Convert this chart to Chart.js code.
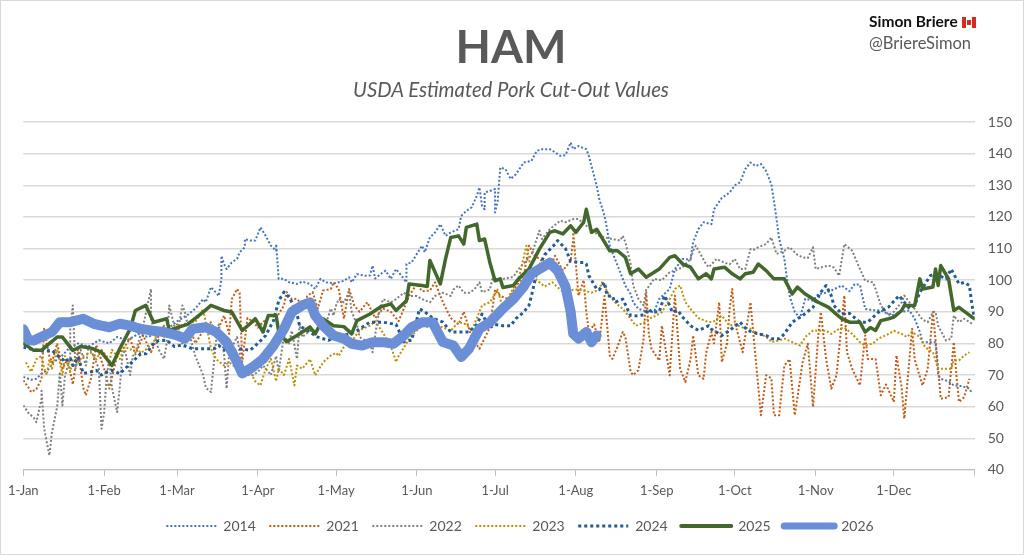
<!DOCTYPE html>
<html><head><meta charset="utf-8">
<script src="https://cdn.jsdelivr.net/npm/chart.js@4.4.1/dist/chart.umd.min.js"></script>
<style>
html,body{margin:0;padding:0;background:#fff;}
#wrap{position:relative;width:1024px;height:555px;box-sizing:border-box;border:1px solid #D9D9D9;overflow:hidden;font-family:Lato,"Open Sans",sans-serif;}
#cv{position:absolute;left:0;top:0;}
#title{position:absolute;left:0;width:1020px;top:22px;text-align:center;font-weight:bold;font-size:46px;line-height:1;color:#595959;}
#sub{position:absolute;left:0;width:1020px;top:78px;text-align:center;font-style:italic;font-size:20.3px;line-height:1;color:#595959;}
#author{position:absolute;left:868px;top:13px;font-weight:bold;font-size:15.5px;line-height:1;color:#111;white-space:nowrap;}
#handle{position:absolute;left:868px;top:34px;font-size:16.5px;line-height:1;color:#595959;white-space:nowrap;}
.flag{display:inline-block;position:relative;width:14px;height:11px;margin-left:4px;vertical-align:-1px;background:linear-gradient(to right,#D52B1E 0 27%,#fff 27% 73%,#D52B1E 73%);}
.flag:after{content:"";position:absolute;left:5px;top:3px;width:4px;height:5px;background:#D52B1E;}
</style></head>
<body>
<div id="wrap">
<canvas id="cv" width="1024" height="555"></canvas>
<div id="title">HAM</div>
<div id="sub">USDA Estimated Pork Cut-Out Values</div>
<div id="author">Simon Briere<span class="flag"></span></div>
<div id="handle">@BriereSimon</div>
</div>
<script>
// x = day of year (0 = 1-Jan), y = $/cwt
const monthDays = [0,31,59,90,120,151,181,212,243,273,304,334];
const monthLabels = ['1-Jan','1-Feb','1-Mar','1-Apr','1-May','1-Jun','1-Jul','1-Aug','1-Sep','1-Oct','1-Nov','1-Dec'];
const seriesNames = ['2014','2021','2022','2023','2024','2025','2026'];

const ham2014 = [[0,69.4],[3,68.5],[5,68.8],[7,70.4],[10,72],[11,73.6],[15,76.2],[17,78],[21,80],[25,79],[29,81],[33,80],[36,82],[40,81],[44,83],[48,82],[52,84],[56,85],[59,87],[63,89],[66,91],[69,94],[70,93],[72,97.8],[74,96],[75,95],[76,100.4],[76,107.7],[77,105.1],[78,103.5],[79,104.6],[80,105.6],[82,106.7],[83,108.8],[85,110.4],[85,113],[87,112.5],[89,112.5],[91,116.7],[93,114],[95,110.9],[97,109.3],[97,111.4],[98,100.4],[100,100.4],[102,99.3],[105,98.8],[107,99.5],[110,98.8],[112,97.2],[114,100.4],[116,99.3],[119,99],[121,99.3],[123,99.8],[125,100.9],[126,99.3],[128,101.9],[131,101.4],[133,101.5],[134,104.6],[135,100.5],[137,101.9],[139,103],[141,100.4],[143,103.5],[144,102.5],[146,100.4],[147,99.3],[147,105.1],[149,105.6],[151,108.3],[153,110.9],[154,108.8],[156,113.5],[158,115.1],[160,117.7],[162,114],[164,115.1],[167,116.1],[168,120.3],[170,121.9],[172,123],[174,126.7],[175,129.3],[176,123.5],[177,122.4],[177,127.7],[179,128.2],[181,128.8],[181,121.4],[182,125],[183,135.6],[185,135.1],[187,132],[189,133.5],[192,137.2],[195,137.7],[197,140.9],[199,141.4],[202,141.4],[204,140.4],[206,139.3],[208,139.5],[210,143.5],[211,141.4],[213,142.4],[216,141.4],[217,139.3],[218,136.1],[220,129.8],[221,125.6],[223,120.3],[224,116.1],[225,110.9],[227,106.7],[229,102.5],[231,98.3],[233,95.6],[234,93],[236,90.9],[240,89.9],[242,90],[244,94.1],[248,97.2],[250,103.5],[253,106.7],[256,106.5],[257,112],[259,116.1],[261,118.3],[264,117.7],[265,122.4],[268,126],[271,127.7],[273,130],[275,130.9],[277,135.1],[279,137.2],[281,136.1],[283,136.7],[285,134.5],[287,130.3],[288,125.1],[289,119.3],[290,113],[292,106.7],[293,100.4],[294,95.1],[296,89.9],[298,88],[300,94.1],[303,93.5],[305,95.6],[308,96],[310,96.7],[314,98.3],[317,96.5],[319,98.8],[321,98.5],[323,90.9],[326,90.5],[329,90.4],[333,88.8],[337,90],[340,90.4],[342,87.8],[344,83.6],[345,80.4],[347,80.4],[350,80.4],[351,69.9],[352,68.8],[355,68],[357,66.7],[360,66.5],[363,65.7],[364,64.1]];

const ham2021 = [[0,68.3],[2,66],[3,64.6],[5,65.5],[7,68.8],[8,84.6],[10,76],[11,74],[13,80],[15,72],[17,75],[19,67],[21,78],[23,66],[24,63.6],[26,69],[28,79.5],[31,72],[33,65.7],[36,76.2],[38,78],[41,81.5],[43,76.5],[46,82.5],[49,77.2],[51,81],[54,85.6],[56,82],[59,86],[61,80],[64,85],[66,80],[69,84],[72,86.7],[74,83],[77,88.8],[79,83],[80,94],[82,97.2],[83,96],[84,74.1],[86,88],[88,87],[90,85],[92,86.7],[95,89],[97,88],[100,92],[101,96.2],[103,94],[105,94.1],[107,92],[109,95],[111,96.2],[113,91],[115,96.7],[118,97.2],[119,99.3],[121,97.2],[123,87.8],[125,97.2],[127,92],[129,90],[132,93],[135,88],[138,91],[141,90],[144,87],[146,91],[148,95],[151,98.8],[153,96.5],[156,96.7],[158,99.3],[160,95.1],[161,93],[164,88],[167,86],[169,90],[172,82],[175,78.3],[176,80],[179,85],[181,97],[183,95],[186,94],[189,98],[192,101.4],[194,110.9],[196,108],[199,106],[202,104],[204,107.7],[207,103],[210,106.2],[211,113],[211,115.1],[213,95.1],[215,100],[216,90],[217,83.6],[219,86],[221,80.4],[223,95],[225,76.2],[226,75.1],[228,79],[230,83.6],[231,82],[233,71],[234,70],[236,71.5],[238,81.5],[239,96.2],[240,83],[241,78.3],[244,74.6],[245,85.6],[248,69.9],[250,95.1],[252,72],[254,67.8],[256,75],[257,82.5],[259,69.9],[261,68.8],[262,77],[264,83.6],[265,80],[267,93],[268,74.1],[270,80],[271,90.9],[272,97.2],[273,86.7],[276,77.2],[279,93],[280,84],[283,57.3],[285,69.9],[287,69],[288,57.3],[290,57.3],[292,73],[294,75],[296,57.3],[299,74.1],[301,79.9],[303,59.9],[305,82.5],[306,89.9],[308,75.1],[310,65.7],[312,69.9],[315,95.1],[316,77.2],[318,72],[321,66.7],[323,82.5],[324,75.1],[327,75],[329,63.6],[331,67],[334,61.5],[335,76.2],[337,66],[338,56.2],[341,84.6],[342,75],[345,66.7],[347,72],[349,89.9],[351,72],[352,62.5],[355,63],[357,80.4],[358,70],[359,61.5],[361,63],[363,68.8]];

const ham2022 = [[0,60.4],[2,58],[4,56.5],[5,55.1],[7,62.5],[7,65],[8,53],[10,44.6],[11,52],[13,60],[14,71],[15,60.4],[16,70],[18,75.1],[18,85],[19,92],[20,72],[22,78],[24,73],[25,79],[27,76],[29,72],[30,53],[31,58],[32,70],[33,75],[34,66],[36,58.3],[37,66],[38,76],[39,78],[41,70],[42,76],[43,77],[46,85.6],[49,97.2],[49,88],[51,80.4],[52,78],[54,75.1],[55,80],[56,92],[59,82],[61,92],[62,90],[64,82],[66,76],[69,70],[70,66],[72,64.6],[74,81],[75,86],[77,77],[78,65.7],[79,77],[82,82],[84,72.8],[86,70],[88,69.9],[90,71],[92,73],[95,70],[97,76],[98,71],[100,82.5],[102,80],[103,84],[105,75.1],[106,86],[107,82],[110,84],[112,84],[114,84.6],[116,86],[118,91],[119,88.8],[120,92],[121,94],[123,93],[125,96.2],[126,90],[128,86],[129,82],[130,81.5],[133,80],[134,77.2],[136,88],[138,94],[141,93],[143,94],[146,96],[148,95],[151,95],[153,94],[156,93],[158,95],[161,96],[164,95],[165,97],[167,98.3],[169,96],[171,96],[173,97],[175,99.3],[176,96.2],[179,97],[180,100.4],[184,100.4],[188,101],[190,103.5],[193,106.2],[195,108],[198,115.6],[199,113],[202,116.1],[206,118.8],[208,118.3],[211,119.3],[213,119.3],[216,117.2],[218,116],[221,114],[223,113.5],[226,113],[229,112.5],[230,114],[231,112],[233,105],[234,98.3],[236,94.1],[238,92],[239,97],[240,98],[242,100.4],[245,100],[248,102.5],[250,103],[253,104.1],[256,106.7],[257,109.3],[258,110.9],[260,108],[262,105],[263,104.1],[266,106.7],[269,105.5],[271,105],[273,106.7],[275,103.5],[277,103.5],[279,109.8],[280,109.5],[282,110.4],[285,111.4],[287,113.5],[289,108.3],[292,109.3],[294,110.4],[297,108],[299,107.2],[301,107],[303,110.4],[304,103.5],[306,104],[309,104.6],[311,104],[313,101.4],[315,111.4],[318,109.3],[321,103.5],[323,99.8],[326,99.3],[327,97.2],[329,92],[332,89],[334,90],[337,93],[338,95.1],[341,92],[345,87.5],[347,86.7],[349,89.9],[350,90],[351,85.6],[354,80.9],[356,81.5],[357,88.8],[359,86.7],[361,87.8],[364,86.2]];

const ham2023 = [[1,74],[3,71],[5,75],[7,76],[8,72],[9,70],[10,75],[11,72],[13,78],[14,74],[15,70],[16,76],[18,71],[19,75],[21,74],[23,76],[26,77],[28,75],[30,78],[32,76],[33,74],[34,78],[37,75],[39,79],[41,78],[43,79],[45,77],[47,78],[50,80.5],[52,84],[54,82],[56,85.6],[59,84],[61,86],[64,86.7],[66,86.7],[69,90.9],[72,78.3],[74,75],[77,73],[79,74],[82,72],[84,70],[87,71],[89,68],[91,66.7],[93,72],[95,75.1],[97,68],[98,72],[100,70],[102,75.1],[104,66.7],[105,73],[107,72],[110,75],[112,69.9],[115,74],[118,76.2],[120,77],[121,76],[124,80.4],[126,80.5],[128,83],[130,84.6],[133,85.6],[135,87],[137,84.6],[139,82],[141,79.3],[143,74.1],[144,76],[147,80],[149,82.5],[153,85.6],[156,85],[158,86],[161,85],[164,84],[167,86.7],[170,86],[172,84],[176,92],[179,93],[182,97],[184,91],[187,96],[190,100],[193,110.9],[195,102.5],[197,100],[200,98],[203,99.3],[206,97],[208,96],[211,97],[213,97],[216,96.5],[218,96],[221,97],[222,99.3],[225,95.1],[227,93],[230,90.9],[233,87.8],[235,85.6],[238,86.5],[240,87.8],[242,88.5],[245,89.9],[248,94],[250,97.2],[252,98.3],[254,93],[256,90.9],[259,88],[263,86.7],[265,87],[268,88.8],[271,85.6],[273,86],[276,85],[279,84.6],[281,83],[283,83],[286,81.5],[287,80.4],[290,81],[292,81.5],[295,80.4],[298,79.3],[300,82],[303,84.1],[305,84],[308,84],[310,83],[313,84.6],[315,85],[318,83],[321,80.4],[323,79.3],[326,80],[328,81.5],[332,83],[334,84],[337,83],[339,82],[341,83.6],[344,82],[346,78.8],[349,77.2],[351,72],[354,72],[356,72],[357,74.6],[359,74.6],[361,76.2],[363,77.2]];

const ham2024 = [[0,78.8],[4,78],[8,77.5],[11,77.8],[13,76.2],[15,75],[16,74.1],[18,75.5],[19,73],[21,75.7],[23,70.5],[26,71],[28,71.5],[30,70],[32,71],[34,71.5],[37,70.4],[39,72],[41,73.5],[43,75.1],[45,76.7],[47,76.7],[50,79.9],[52,80.9],[55,81],[58,79],[61,79.5],[65,78.3],[69,78.3],[73,78.3],[75,79.3],[79,77],[82,78],[84,78.3],[87,77.8],[90,80],[93,82.5],[96,87.2],[98,93.5],[100,96.2],[102,94.6],[103,93],[105,89.3],[106,85.6],[109,84],[113,82],[117,81],[121,82],[125,83],[128,84],[133,86.7],[138,86.7],[143,86],[146,80.5],[149,81],[152,90.9],[154,90],[157,88],[161,86.7],[164,83.6],[167,83.6],[171,83.6],[174,86],[176,89.3],[179,85],[181,86],[184,85.6],[187,85.6],[189,87.8],[192,89.9],[194,92],[195,95.1],[197,102.5],[200,108],[204,111.4],[205,112.5],[208,110],[210,106],[213,105.6],[215,105.6],[216,105.1],[217,101.4],[220,97.2],[221,97],[223,99.3],[224,95],[226,95],[227,93],[230,94],[233,88.8],[235,88.7],[238,89],[240,90.9],[241,89.9],[244,90],[246,95.1],[248,92],[249,89.9],[251,90.5],[253,88.3],[256,85.6],[259,84.1],[263,85.6],[264,84.5],[268,82.5],[271,84.1],[275,86.7],[278,84],[280,83.6],[282,83],[285,82.5],[287,81.5],[290,81.5],[292,83],[295,86.7],[299,88.8],[303,91.4],[306,96.2],[308,98.3],[310,95.1],[311,92],[314,89.3],[317,89.5],[321,86.7],[324,86.7],[328,89.8],[332,91.5],[336,95.1],[340,91],[342,92],[344,96.2],[348,101.4],[350,102],[354,100.4],[356,103.5],[359,98.8],[361,99.3],[363,98.3],[364,92],[365,87.8]];

const ham2025 = [[0,80],[4,77.8],[7,77.8],[9,79.3],[13,82],[15,82],[19,77.8],[22,79],[26,78.5],[30,77.2],[34,73],[37,78.3],[41,84.6],[43,90.4],[47,92],[50,86.7],[55,87.8],[56,84],[59,85],[63,86],[69,89.9],[72,92],[77,90.4],[80,89.9],[84,84.1],[87,86.2],[89,87.8],[92,83.6],[94,88.8],[97,88.8],[98,83.6],[101,80.5],[105,82.5],[110,85.2],[112,83],[115,87.8],[119,85.6],[123,85.3],[126,83],[128,87.2],[133,89.3],[137,91.5],[141,92.5],[143,90.4],[147,93.5],[148,98.8],[153,98.3],[155,98],[156,106.2],[160,98.8],[162,106.7],[164,113.5],[167,114],[169,111.4],[170,116.7],[174,117.7],[175,112.5],[177,113],[179,105.6],[181,99.8],[183,100.4],[184,97.7],[188,98.3],[190,100.4],[194,103.5],[198,109.8],[202,115.1],[204,115.6],[207,114.6],[210,117.2],[212,115.1],[215,118.3],[216,122.4],[218,115.1],[220,116.1],[223,112],[225,109.3],[228,109.3],[231,107.2],[233,102],[236,103.5],[239,100.9],[244,103.5],[248,107.2],[250,107.7],[253,105.1],[256,104.1],[259,100.4],[262,102],[264,100.4],[265,103.5],[269,104.1],[272,102],[275,100.4],[277,102],[280,102.5],[282,105.1],[285,103],[288,100.4],[292,100.4],[295,95.6],[297,97.8],[300,95.6],[302,94.6],[305,93],[309,91.4],[311,89.9],[314,87.8],[317,86.7],[321,86.7],[323,83.6],[325,85],[327,84.1],[329,87.2],[332,87.8],[334,88.3],[337,90.4],[338,92],[342,92],[344,100.4],[345,97.2],[349,97.8],[350,103.5],[351,98.3],[352,104.6],[355,100.4],[357,90.4],[359,91.4],[364,88.3],[365,87.8]];

const ham2026 = [[0,84.5],[2,81],[4,80.9],[8,82.5],[11,83.6],[14,86.7],[18,86.7],[23,87.8],[27,86.2],[30,85.6],[33,85.1],[37,86.2],[41,85.6],[45,84.6],[49,84.1],[54,83.6],[59,82.5],[62,81.5],[65,84.6],[70,85.1],[74,83.6],[78,80.4],[82,74.1],[84,70.5],[88,72.5],[92,75.1],[96,79.3],[100,84.6],[103,89.9],[107,92],[110,93],[112,88.8],[115,85.6],[119,82.5],[123,81.5],[126,79.9],[130,79.3],[134,80.4],[138,80.4],[142,79.9],[146,82.5],[149,85.1],[153,86.7],[157,86.7],[161,80.4],[165,79.3],[168,75.7],[171,78.3],[175,84.6],[179,86.7],[184,91],[188,94],[192,98],[195,102],[199,104],[202,105.5],[205,103],[208,98],[210,90],[211,83],[213,81.5],[216,83.6],[218,80.4],[220,82.5]];

const allSeries = [ham2014, ham2021, ham2022, ham2023, ham2024, ham2025, ham2026];
const colors = ['#4472C4','#C55A11','#7F7F7F','#BF9000','#1F5C99','#43682B','#6B8FD6'];
const widths = [2,2,2,2,3,3.5,10];
const dashes = [[2,2],[2,2],[2,2],[2,2],[3,3],[],[]];
const legendWidths = [2,2,2,2,3,4,7];

const datasets = allSeries.map((s, i) => ({
  label: seriesNames[i],
  data: s.map(p => ({x: p[0], y: p[1]})),
  borderColor: colors[i],
  backgroundColor: colors[i],
  borderWidth: widths[i],
  borderDash: dashes[i],
  borderCapStyle: dashes[i].length ? 'butt' : 'round',
  borderJoinStyle: 'round',
  pointRadius: 0,
  tension: 0,
  fill: false,
  order: allSeries.length - 1 - i
}));

new Chart(document.getElementById('cv'), {
  type: 'line',
  data: { datasets },
  options: {
    responsive: false,
    animation: false,
    devicePixelRatio: 1,
    layout: { padding: { top: 121, left: 14, right: 0, bottom: 13 } },
    plugins: {
      tooltip: { enabled: false },
      title: { display: false },
      legend: {
        position: 'bottom',
        labels: {
          usePointStyle: true,
          pointStyleWidth: 50,
          boxWidth: 50,
          padding: 13.5,
          color: '#595959',
          font: { family: 'Lato', size: 14 },
          generateLabels: (chart) => chart.data.datasets.map((ds, i) => ({
            text: ds.label,
            fillStyle: ds.borderColor,
            strokeStyle: ds.borderColor,
            lineWidth: legendWidths[i],
            lineDash: ds.borderDash,
            lineCap: ds.borderDash.length ? 'butt' : 'round',
            pointStyle: 'line',
            hidden: false,
            datasetIndex: i,
            fontColor: '#595959'
          }))
        }
      }
    },
    scales: {
      x: {
        type: 'linear',
        min: 0, max: 365,
        afterBuildTicks: (scale) => { scale.ticks = monthDays.concat([365]).map(v => ({value: v})); },
        ticks: {
          autoSkip: false, maxRotation: 0, padding: 7,
          color: '#595959', font: { family: 'Lato', size: 13 },
          callback: (v) => { const k = monthDays.indexOf(v); return k >= 0 ? monthLabels[k] : ''; }
        },
        grid: { drawOnChartArea: false, drawTicks: true, tickLength: 6, color: '#BFBFBF', lineWidth: 1 },
        border: { display: true, color: '#BFBFBF', width: 1 }
      },
      y: {
        position: 'right',
        min: 40, max: 150,
        ticks: { stepSize: 10, padding: 13, color: '#595959', font: { family: 'Lato', size: 14 } },
        grid: { color: '#D9D9D9', lineWidth: 1.5, drawTicks: false },
        border: { display: false }
      }
    }
  }
});
</script>
</body></html>
